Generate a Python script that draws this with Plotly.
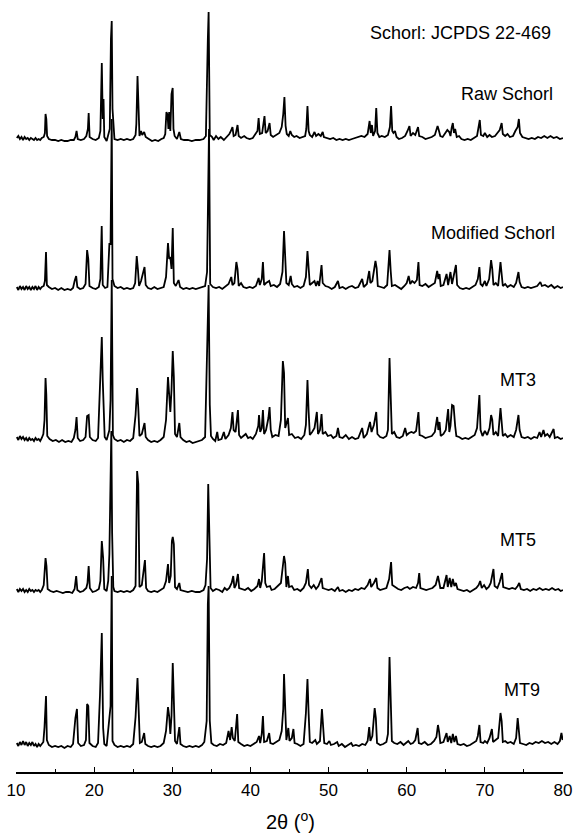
import plotly.graph_objects as go

# ---- data: (2theta, relative intensity) ----
RAW_SCHORL = [(10.1,1),(10.3,3),(10.5,0),(10.7,2),(10.9,-1),(11.1,2),(11.3,0),(11.5,1),(11.7,-1),(11.9,1),(12.1,0),(12.3,-1),(12.5,1),(12.7,-1),(12.9,0),(13.1,-1),(13.3,1),(13.55,2),
(13.7,6),(13.78,25),(13.88,20),(13.98,3),(14.2,0),(14.6,-1),(15.0,-1),(15.4,-2),(15.8,-1),(16.2,-2),(16.6,-2),(17.0,-1),(17.4,-1),(17.6,2),(17.75,8),(17.9,0),(18.3,-1),(18.7,0),(19.0,3),(19.2,10),(19.3,26),(19.42,2),(19.8,0),(20.2,-1),(20.6,1),(20.8,8),(20.98,76),(21.1,20),(21.2,40),(21.3,2),(21.6,-2),(21.85,4),(22.0,10),(22.15,100),(22.25,118),(22.35,30),(22.45,14),(22.6,0),(23.0,-1),(23.4,0),(23.8,-1),(24.2,0),(24.6,-1),(25.0,0),(25.3,4),(25.4,15),(25.55,63),(25.65,32),(25.8,3),(26.0,8),(26.15,4),(26.4,7),(26.6,2),(27.0,0),(27.4,-2),(27.8,-1),(28.2,-2),(28.6,0),(28.9,1),(29.1,5),(29.25,27),(29.4,24),(29.5,10),(29.6,27),(29.75,8),(29.9,45),(30.05,51),(30.15,10),(30.3,3),(30.6,0),(30.9,7),(31.1,0),(31.5,-1),(32.0,-1),(32.5,-2),(33.0,-1),(33.5,-1),(34.0,0),(34.3,3),(34.55,100),(34.65,127),(34.8,4),(35.1,2),(35.3,-1),(35.6,3),(35.9,0),(36.2,2),(36.6,-1),(37.0,2),(37.3,5),(37.5,8),(37.7,12),(37.85,3),(38.1,4),(38.35,14),(38.5,3),(38.8,1),(39.2,3),(39.5,1),(39.9,0),(40.3,1),(40.6,5),(40.9,8),(41.05,21),(41.2,5),(41.5,6),(41.8,23),(41.95,6),(42.2,8),(42.45,16),(42.6,4),(42.9,2),(43.3,4),(43.7,6),(44.0,12),(44.2,25),(44.35,42),(44.5,13),(44.65,5),(44.9,3),(45.1,8),(45.3,4),(45.6,2),(45.9,3),(46.3,1),(46.7,2),(47.0,3),(47.15,10),(47.3,33),(47.45,8),(47.6,4),(47.9,2),(48.2,7),(48.4,3),(48.7,5),(49.0,3),(49.25,7),(49.4,2),(49.8,1),(50.2,0),(50.6,1),(51.0,-1),(51.4,0),(51.8,-1),(52.2,0),(52.6,-1),(53.0,0),(53.4,1),(53.8,2),(54.2,3),(54.6,2),(55.0,5),(55.25,18),(55.4,6),(55.55,14),(55.7,3),(55.95,8),(56.1,31),(56.25,6),(56.5,2),(56.8,3),(57.2,2),(57.6,4),(57.85,12),(58.0,33),(58.15,8),(58.3,6),(58.5,8),(58.7,2),(59.0,0),(59.4,1),(59.8,3),(60.1,8),(60.35,13),(60.5,3),(60.8,6),(61.1,4),(61.45,12),(61.6,3),(62.0,2),(62.4,0),(62.8,1),(63.2,2),(63.6,4),(63.95,13),(64.1,9),(64.3,3),(64.6,2),(64.9,5),(65.2,9),(65.45,7),(65.6,3),(65.75,11),(65.9,16),(66.05,6),(66.2,10),(66.4,2),(66.7,3),(67.0,0),(67.4,-1),(67.8,0),(68.2,-1),(68.6,1),(69.0,3),(69.35,19),(69.5,4),(69.8,3),(70.0,6),(70.3,2),(70.6,4),(70.9,2),(71.3,3),(71.6,6),(71.9,9),(72.15,16),(72.3,5),(72.6,3),(72.9,5),(73.2,2),(73.6,3),(73.9,8),(74.2,12),(74.35,20),(74.5,6),(74.8,2),(75.2,1),(75.6,0),(76.0,1),(76.4,0),(76.8,2),(77.2,1),(77.6,3),(78.0,1),(78.4,3),(78.8,1),(79.2,2),(79.6,0),(80.0,1)]

MODIFIED_SCHORL = [(10.1,2),(10.3,-1),(10.5,3),(10.7,0),(10.9,2),(11.1,-1),(11.3,3),(11.5,0),(11.7,2),(11.9,-1),(12.1,2),(12.3,0),(12.5,3),(12.7,-1),(12.9,2),(13.1,0),(13.3,2),(13.55,3),(13.7,8),(13.84,37),(13.95,4),(14.2,2),(14.6,0),(15.0,1),(15.4,-1),(15.8,1),(16.2,-1),(16.6,0),(17.0,-1),(17.3,1),(17.5,8),(17.7,13),(17.85,2),(18.2,0),(18.6,1),(18.9,5),(19.1,39),(19.25,30),(19.4,3),(19.8,1),(20.2,0),(20.6,2),(20.8,10),(20.97,63),(21.1,4),(21.4,1),(21.7,2),(21.95,45),(22.1,45),(22.25,170),(22.35,10),(22.6,3),(23.0,1),(23.4,2),(23.8,0),(24.2,1),(24.6,0),(25.0,1),(25.25,6),(25.45,33),(25.6,20),(25.75,3),(26.0,8),(26.2,15),(26.45,22),(26.6,4),(26.9,1),(27.3,0),(27.7,2),(28.1,0),(28.5,1),(28.9,2),(29.2,12),(29.45,46),(29.6,30),(29.75,32),(29.9,20),(30.06,61),(30.2,6),(30.45,3),(30.8,9),(31.0,2),(31.4,0),(31.8,1),(32.2,0),(32.6,1),(33.0,0),(33.4,1),(33.8,2),(34.2,3),(34.45,17),(34.6,150),(34.7,160),(34.85,5),(35.2,2),(35.6,1),(36.0,2),(36.4,0),(36.8,3),(37.2,5),(37.55,12),(37.7,4),(37.95,6),(38.2,27),(38.35,20),(38.5,3),(38.8,6),(39.1,2),(39.5,1),(39.9,2),(40.3,1),(40.7,3),(41.05,11),(41.2,4),(41.45,10),(41.6,27),(41.75,4),(42.0,6),(42.4,8),(42.6,3),(43.0,4),(43.4,2),(43.8,5),(44.1,17),(44.3,58),(44.45,37),(44.6,6),(44.9,4),(45.15,13),(45.3,5),(45.6,2),(46.0,3),(46.4,1),(46.8,3),(47.1,12),(47.3,38),(47.45,20),(47.6,4),(47.9,6),(48.2,8),(48.4,3),(48.6,8),(48.8,3),(49.1,24),(49.25,6),(49.6,3),(50.0,2),(50.4,0),(50.8,2),(51.2,8),(51.4,1),(51.8,2),(52.2,0),(52.6,2),(53.0,3),(53.4,1),(53.8,2),(54.3,10),(54.5,2),(54.9,5),(55.2,18),(55.35,6),(55.6,8),(56.0,28),(56.15,21),(56.3,3),(56.7,2),(57.1,1),(57.5,4),(57.8,39),(57.95,18),(58.1,3),(58.5,4),(58.9,2),(59.3,0),(59.7,3),(60.0,6),(60.25,13),(60.45,5),(60.7,8),(61.0,6),(61.3,9),(61.5,27),(61.65,4),(62.0,3),(62.4,5),(62.8,2),(63.2,4),(63.6,6),(63.9,18),(64.05,10),(64.2,15),(64.35,3),(64.7,4),(65.1,15),(65.3,4),(65.6,17),(65.8,5),(66.0,13),(66.3,24),(66.45,4),(66.8,1),(67.2,0),(67.6,1),(68.0,0),(68.4,2),(68.8,4),(69.1,10),(69.3,22),(69.45,5),(69.7,3),(70.0,8),(70.2,3),(70.55,10),(70.8,29),(70.95,20),(71.1,4),(71.4,6),(71.7,3),(72.0,27),(72.15,15),(72.3,3),(72.6,5),(72.9,2),(73.3,4),(73.7,2),(74.0,6),(74.3,17),(74.45,7),(74.7,2),(75.1,1),(75.5,2),(75.9,1),(76.3,2),(76.7,3),(77.1,7),(77.3,3),(77.7,4),(78.1,2),(78.5,4),(78.9,1),(79.3,3),(79.7,1),(80.0,2)]

MT3 = [(10.1,3),(10.3,0),(10.5,4),(10.7,1),(10.9,3),(11.1,0),(11.3,2),(11.5,-1),(11.7,2),(11.9,0),(12.1,1),(12.3,-1),(12.5,2),(12.7,0),(12.9,1),(13.1,-1),(13.3,2),(13.5,6),(13.65,20),(13.78,62),(13.88,45),(14.0,4),(14.3,1),(14.7,-1),(15.1,0),(15.5,-2),(15.9,0),(16.3,-2),(16.7,-1),(17.1,-2),(17.4,2),(17.6,10),(17.75,23),(17.9,2),(18.2,-1),(18.6,0),(18.9,3),(19.1,24),(19.3,25),(19.45,3),(19.8,0),(20.2,-1),(20.5,2),(20.75,52),(20.98,103),(21.1,60),(21.2,34),(21.35,3),(21.6,0),(21.95,10),(22.1,40),(22.25,160),(22.4,5),(22.6,1),(23.0,-1),(23.4,0),(23.8,-2),(24.2,0),(24.6,-1),(25.0,2),(25.3,25),(25.5,52),(25.65,32),(25.8,4),(26.1,6),(26.45,17),(26.6,3),(26.9,0),(27.3,-2),(27.7,-1),(28.1,-2),(28.5,0),(28.9,3),(29.2,20),(29.45,63),(29.6,38),(29.75,28),(29.9,50),(30.06,89),(30.2,63),(30.35,6),(30.6,3),(30.9,17),(31.05,3),(31.4,0),(31.8,-2),(32.2,-1),(32.6,-3),(33.0,-2),(33.4,-1),(33.8,0),(34.2,3),(34.5,110),(34.65,155),(34.8,35),(34.95,4),(35.2,1),(35.5,-1),(35.75,8),(35.9,0),(36.3,1),(36.6,8),(36.8,1),(37.2,5),(37.5,12),(37.7,28),(37.85,10),(38.1,8),(38.4,30),(38.55,5),(38.8,2),(39.1,4),(39.4,6),(39.7,2),(40.0,3),(40.3,1),(40.7,6),(41.0,14),(41.1,25),(41.25,8),(41.45,12),(41.6,30),(41.75,6),(42.0,10),(42.3,22),(42.45,33),(42.6,10),(42.8,3),(43.2,5),(43.6,4),(43.9,20),(44.15,79),(44.3,67),(44.45,12),(44.8,22),(44.95,5),(45.3,6),(45.7,2),(46.1,3),(46.5,1),(46.9,5),(47.1,15),(47.3,60),(47.45,28),(47.6,5),(47.9,8),(48.2,12),(48.5,28),(48.65,6),(48.9,10),(49.1,26),(49.25,6),(49.6,8),(49.9,4),(50.3,5),(50.6,2),(51.0,4),(51.2,12),(51.4,3),(51.8,2),(52.2,5),(52.6,1),(53.0,3),(53.4,1),(53.8,2),(54.3,12),(54.5,2),(54.9,6),(55.3,18),(55.5,8),(55.8,15),(56.1,28),(56.25,6),(56.6,3),(57.0,2),(57.4,4),(57.6,10),(57.8,82),(57.95,49),(58.1,6),(58.4,8),(58.7,3),(59.1,2),(59.5,4),(59.8,12),(60.0,5),(60.3,7),(60.6,8),(60.9,7),(61.2,9),(61.5,28),(61.65,5),(62.0,4),(62.4,2),(62.8,3),(63.2,4),(63.6,8),(63.9,23),(64.05,10),(64.2,18),(64.35,4),(64.7,6),(65.0,10),(65.3,31),(65.45,8),(65.6,14),(65.8,35),(66.0,34),(66.2,14),(66.35,4),(66.7,3),(67.1,1),(67.5,2),(67.9,1),(68.3,3),(68.7,5),(69.0,12),(69.3,45),(69.45,10),(69.7,4),(70.0,9),(70.3,5),(70.6,12),(70.8,25),(70.95,20),(71.1,5),(71.4,8),(71.7,4),(72.0,32),(72.15,20),(72.3,4),(72.6,6),(72.9,3),(73.3,5),(73.7,3),(74.0,10),(74.3,25),(74.45,10),(74.7,3),(75.1,2),(75.5,3),(75.9,1),(76.3,3),(76.7,2),(77.0,8),(77.2,3),(77.5,10),(77.7,4),(78.0,6),(78.3,3),(78.8,11),(78.95,2),(79.3,3),(79.7,1),(80.0,2)]

MT5 = [(10.1,2),(10.3,-1),(10.5,2),(10.7,0),(10.9,2),(11.1,-1),(11.3,1),(11.5,-1),(11.7,2),(11.9,0),(12.1,1),(12.3,-1),(12.5,1),(12.7,0),(12.9,1),(13.1,-1),(13.3,1),(13.55,6),(13.78,33),(13.9,25),(14.05,2),(14.4,0),(14.8,-1),(15.2,0),(15.6,-1),(16.0,-2),(16.4,-1),(16.8,-1),(17.2,-2),(17.5,2),(17.7,15),(17.85,1),(18.2,-1),(18.6,0),(19.0,3),(19.15,8),(19.3,25),(19.45,3),(19.8,-1),(20.2,0),(20.6,2),(20.8,10),(20.98,50),(21.15,33),(21.3,2),(21.6,0),(21.8,10),(21.95,37),(22.2,160),(22.3,58),(22.45,4),(22.6,0),(23.0,-1),(23.4,0),(23.8,-1),(24.2,0),(24.6,-1),(25.0,1),(25.3,5),(25.5,120),(25.65,107),(25.8,4),(26.1,6),(26.35,20),(26.5,31),(26.65,3),(26.9,0),(27.3,-1),(27.7,0),(28.1,-1),(28.5,1),(28.9,3),(29.2,10),(29.45,27),(29.6,8),(29.8,15),(29.95,50),(30.06,54),(30.2,47),(30.35,4),(30.6,2),(30.9,8),(31.05,1),(31.5,0),(32.0,-1),(32.5,0),(33.0,-1),(33.5,-1),(34.0,1),(34.25,6),(34.45,32),(34.6,107),(34.75,53),(34.9,3),(35.2,0),(35.6,2),(36.0,1),(36.4,-1),(36.7,3),(37.0,1),(37.3,3),(37.6,8),(37.8,15),(37.95,3),(38.15,6),(38.4,17),(38.55,3),(38.9,2),(39.3,1),(39.7,3),(40.1,0),(40.5,2),(40.9,5),(41.1,12),(41.25,3),(41.45,10),(41.75,38),(41.9,8),(42.1,4),(42.5,5),(42.7,1),(43.1,2),(43.5,5),(43.9,8),(44.15,25),(44.3,35),(44.45,28),(44.6,4),(44.8,15),(44.95,4),(45.3,5),(45.6,1),(46.0,2),(46.4,0),(46.8,3),(47.1,8),(47.35,22),(47.5,6),(47.8,3),(48.1,6),(48.4,2),(48.7,5),(49.1,13),(49.25,3),(49.6,2),(50.0,1),(50.4,2),(50.8,0),(51.2,4),(51.4,0),(51.8,1),(52.2,-1),(52.6,1),(53.0,0),(53.4,2),(53.8,1),(54.2,3),(54.6,2),(55.0,6),(55.3,12),(55.45,4),(55.8,8),(56.1,13),(56.25,3),(56.6,1),(57.0,2),(57.4,3),(57.75,12),(58.0,29),(58.15,6),(58.5,4),(58.9,2),(59.3,1),(59.7,3),(60.1,4),(60.4,2),(60.8,4),(61.2,3),(61.45,8),(61.6,18),(61.75,3),(62.1,2),(62.5,1),(62.9,2),(63.3,3),(63.7,6),(64.0,15),(64.15,9),(64.3,3),(64.7,3),(65.1,16),(65.25,4),(65.5,13),(65.7,4),(65.9,12),(66.1,5),(66.3,8),(66.5,2),(66.9,1),(67.3,0),(67.7,1),(68.1,-1),(68.5,1),(68.9,3),(69.2,6),(69.4,10),(69.6,3),(69.9,6),(70.2,2),(70.5,4),(70.75,8),(70.9,15),(71.1,22),(71.25,5),(71.6,3),(71.9,9),(72.2,18),(72.35,4),(72.7,3),(73.1,2),(73.5,3),(73.9,2),(74.2,5),(74.4,8),(74.6,2),(75.0,1),(75.4,2),(75.8,0),(76.2,2),(76.6,1),(77.0,3),(77.4,1),(77.8,2),(78.2,1),(78.6,3),(79.0,1),(79.4,2),(79.7,0),(80.0,1)]

MT9 = [(10.1,3),(10.3,0),(10.5,4),(10.7,1),(10.9,5),(11.1,1),(11.3,4),(11.5,0),(11.7,3),(11.9,1),(12.1,4),(12.3,0),(12.5,2),(12.7,-1),(12.9,2),(13.1,0),(13.3,2),(13.5,4),(13.65,19),(13.84,50),(13.95,6),(14.2,1),(14.6,-1),(15.0,0),(15.4,-1),(15.8,0),(16.2,-2),(16.6,0),(17.0,-1),(17.3,2),(17.6,28),(17.8,37),(17.95,3),(18.3,0),(18.7,1),(18.95,6),(19.1,42),(19.25,40),(19.4,3),(19.8,0),(20.2,-1),(20.5,3),(20.75,51),(20.98,113),(21.15,18),(21.3,2),(21.6,0),(21.9,29),(22.1,40),(22.25,170),(22.35,5),(22.6,1),(23.0,-1),(23.4,0),(23.8,-1),(24.2,0),(24.6,-1),(25.0,2),(25.3,29),(25.55,68),(25.7,33),(25.85,3),(26.1,4),(26.4,13),(26.55,2),(26.9,0),(27.3,-1),(27.7,0),(28.1,-1),(28.5,0),(28.9,3),(29.2,15),(29.45,39),(29.6,30),(29.75,12),(29.9,30),(30.06,83),(30.2,52),(30.35,5),(30.6,2),(30.9,19),(31.05,2),(31.4,0),(31.8,-1),(32.2,0),(32.6,-1),(33.0,0),(33.4,-1),(33.8,1),(34.1,4),(34.4,25),(34.55,142),(34.65,160),(34.8,25),(35.0,3),(35.3,1),(35.7,0),(36.1,2),(36.5,1),(36.9,3),(37.2,15),(37.4,6),(37.6,19),(37.75,8),(38.0,5),(38.3,32),(38.45,4),(38.8,2),(39.2,0),(39.6,1),(40.0,0),(40.4,2),(40.8,4),(41.1,10),(41.25,3),(41.45,12),(41.6,30),(41.75,4),(42.1,5),(42.4,13),(42.55,3),(42.9,2),(43.3,4),(43.7,6),(44.0,15),(44.2,37),(44.3,72),(44.45,43),(44.6,6),(44.85,18),(45.0,5),(45.3,8),(45.5,17),(45.65,3),(46.0,2),(46.4,0),(46.8,2),(47.1,33),(47.3,67),(47.45,32),(47.6,4),(47.9,3),(48.3,6),(48.5,2),(48.9,5),(49.15,37),(49.3,18),(49.45,3),(49.8,2),(50.1,5),(50.3,1),(50.7,2),(51.1,4),(51.3,0),(51.7,2),(52.1,-1),(52.5,1),(52.9,3),(53.1,0),(53.5,1),(53.9,0),(54.3,2),(54.7,1),(55.0,5),(55.2,19),(55.35,5),(55.6,10),(55.9,38),(56.05,28),(56.2,3),(56.6,1),(57.0,2),(57.4,4),(57.6,12),(57.8,89),(57.95,44),(58.1,5),(58.4,3),(58.8,2),(59.2,4),(59.6,1),(59.9,3),(60.2,5),(60.5,2),(60.8,3),(61.1,6),(61.4,18),(61.55,3),(61.9,2),(62.3,4),(62.7,1),(63.1,2),(63.5,5),(63.8,9),(64.0,21),(64.15,14),(64.3,3),(64.7,4),(65.1,13),(65.25,4),(65.5,10),(65.7,3),(65.9,12),(66.1,4),(66.3,10),(66.5,2),(66.9,1),(67.3,2),(67.7,0),(68.1,1),(68.5,3),(68.9,5),(69.1,10),(69.3,21),(69.45,4),(69.8,3),(70.0,5),(70.3,3),(70.6,8),(70.9,17),(71.05,4),(71.4,6),(71.7,8),(72.0,33),(72.15,25),(72.3,4),(72.6,5),(72.9,3),(73.3,4),(73.7,2),(74.0,8),(74.2,28),(74.35,12),(74.5,3),(74.9,2),(75.3,1),(75.7,3),(76.1,2),(76.5,4),(76.9,3),(77.3,5),(77.7,3),(78.1,4),(78.5,2),(78.9,4),(79.3,2),(79.6,5),(79.8,13),(79.95,6)]

SERIES_NAMES = ["Raw Schorl", "Modified Schorl", "MT3", "MT5", "MT9"]
SERIES_DATA = [RAW_SCHORL, MODIFIED_SCHORL, MT3, MT5, MT9]
OFFSETS = [633, 483, 332, 181, 26]          # vertical stacking offsets (a.u.)
X_TICKS = [10, 20, 30, 40, 50, 60, 70, 80]

FONT = "Liberation Sans, Arial, sans-serif"

fig = go.Figure()
for name, data, off in zip(SERIES_NAMES, SERIES_DATA, OFFSETS):
    fig.add_trace(go.Scatter(
        x=[p[0] for p in data],
        y=[p[1] + off for p in data],
        mode="lines", name=name,
        line=dict(color="black", width=1.8),
        showlegend=False, hoverinfo="skip",
    ))

W, H = 573, 836
L, R, T, B = 16, 10, 0, 64
pw, ph = W - L - R, H - T - B

def px(xp):  # pixel -> paper x
    return (xp - L) / pw

def py(yp):  # pixel -> paper y
    return 1 - (yp - T) / ph

labels = [
    ("Schorl: JCPDS 22-469", 553, 33),
    ("Raw Schorl", 555, 94),
    ("Modified Schorl", 557, 233),
    ("MT3", 538, 380),
    ("MT5", 538, 540),
    ("MT9", 542, 690),
]
for txt, xr, yc in labels:
    fig.add_annotation(text=txt, x=px(xr), y=py(yc), xref="paper", yref="paper",
                       xanchor="right", yanchor="middle", showarrow=False,
                       font=dict(family=FONT, size=18, color="black"))

fig.add_annotation(text="2θ (<sup>o</sup>)", x=px(290), y=py(820), xref="paper", yref="paper",
                   xanchor="center", yanchor="middle", showarrow=False,
                   font=dict(family=FONT, size=20, color="black"))

fig.update_layout(
    width=W, height=H,
    margin=dict(l=L, r=R, t=T, b=B),
    paper_bgcolor="white", plot_bgcolor="white",
    xaxis=dict(range=[10, 80], tickvals=X_TICKS, ticks="inside", ticklen=5, tickwidth=1.2,
               tickcolor="black", showline=True, linecolor="black", linewidth=1.5,
               showgrid=False, zeroline=False,
               minor=dict(ticks="inside", ticklen=3, tickwidth=1, tickcolor="black", dtick=5, showgrid=False),
               tickfont=dict(family=FONT, size=17, color="black"), ticklabelstandoff=2),
    yaxis=dict(range=[0, ph], visible=False, showgrid=False, zeroline=False),
)

fig.write_html("out.html")
